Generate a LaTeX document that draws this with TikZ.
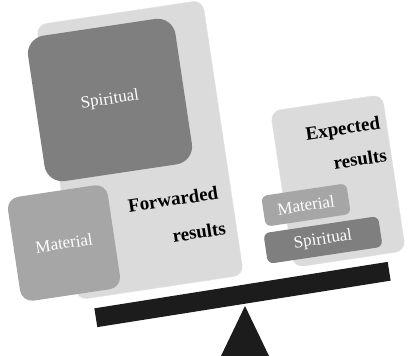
\documentclass[tikz,border=0pt]{standalone}
\usepackage{fontspec}
\setmainfont{Liberation Serif}
\usepackage{tikz}
\usetikzlibrary{calc}

\definecolor{panelgray}{HTML}{DBDBDB}
\definecolor{paneledge}{HTML}{DCE2EC}
\definecolor{darkblock}{HTML}{7F7F7F}
\definecolor{lightblock}{HTML}{A6A6A6}
\definecolor{beamblack}{HTML}{1C1C1C}

\begin{document}
\begin{tikzpicture}[x=1pt, y=-1pt,
    tilt/.style={rotate=8.5, inner sep=0pt},
    panel/.style={tilt, fill=panelgray, draw=paneledge, thin, rounded corners=10pt},
    block/.style={tilt, text=white, font=\fontsize{17}{20}\selectfont},
    label/.style={tilt, font=\fontsize{19}{23}\selectfont\bfseries}]
    \useasboundingbox (0,0) rectangle (408,356);
    % left pan
    \node [panel, minimum width=168pt, minimum height=278pt] (leftpan) at (140,150) {};
    \node [block, fill=darkblock, rounded corners=18pt, minimum width=149pt, minimum height=147pt] (leftspirit) at (110,100) {Spiritual};
    \node [block, fill=lightblock, rounded corners=12pt, minimum width=101pt, minimum height=105pt] (leftmat) at (64,243) {Material};
    \node [label] (fwd) at (173,199) {Forwarded};
    \node [label] (fwdres) at (199,232) {results};
    % right pan
    \node [panel, minimum width=113pt, minimum height=158pt] (rightpan) at (338,181) {};
    \node [label] (exp) at (343,130) {Expected};
    \node [label] (expres) at (360,159) {results};
    \node [block, fill=lightblock, rounded corners=6pt, minimum width=86pt, minimum height=31pt] (rightmat) at (306,205) {Material};
    \node [block, fill=darkblock, rounded corners=6pt, minimum width=116pt, minimum height=31pt] (rightspirit) at (323,240) {Spiritual};
    % beam and pivot
    \node [rotate=9, fill=beamblack, inner sep=0pt, minimum width=297pt, minimum height=19pt] (beam) at (242.5,294.5) {};
    \coordinate (apex) at (245,306);
    \coordinate (baseleft) at (221,356);
    \coordinate (baseright) at (269,356);
    \fill [beamblack] (apex) -- (baseleft) -- (baseright) -- cycle;
\end{tikzpicture}
\end{document}
